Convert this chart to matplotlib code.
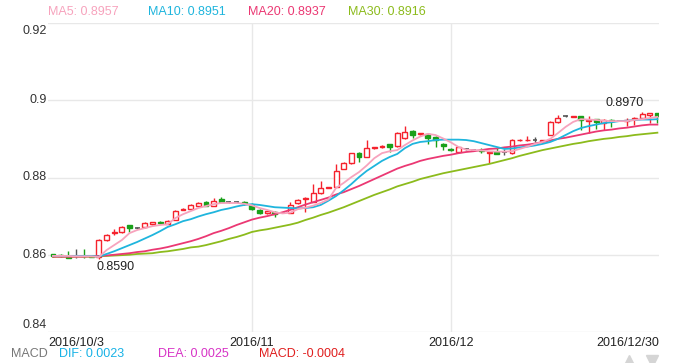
import matplotlib.pyplot as plt
from matplotlib.lines import Line2D
from matplotlib.transforms import blended_transform_factory

plt.rcParams['font.family'] = ['Liberation Sans', 'DejaVu Sans']

# daily candles, 2016/10/3 .. 2016/12/30
opens = [0.8601, 0.8599, 0.8593, 0.8596, 0.8598, 0.8596, 0.8594, 0.8638, 0.8656, 0.8659,
         0.8677, 0.8669, 0.8672, 0.8679, 0.8686, 0.8680, 0.8690, 0.8717, 0.8719, 0.8726,
         0.8737, 0.8727, 0.8744, 0.8736, 0.8736, 0.8737, 0.8728, 0.8717, 0.8707, 0.8711,
         0.8709, 0.8709, 0.8733, 0.8745, 0.8737, 0.8759, 0.8773, 0.8776, 0.8822, 0.8837,
         0.8863, 0.8854, 0.8876, 0.8878, 0.8886, 0.8881, 0.8901, 0.8921, 0.8912, 0.8913,
         0.8906, 0.8888, 0.8875, 0.8867, 0.8874, 0.8871, 0.8872, 0.8864, 0.8867, 0.8866,
         0.8863, 0.8896, 0.8896, 0.8897, 0.8894, 0.8910, 0.8943, 0.8959, 0.8957, 0.8959,
         0.8946, 0.8951, 0.8942, 0.8948, 0.8947, 0.8945, 0.8952, 0.8953, 0.8963, 0.8967]
highs = [0.8603, 0.8603, 0.8609, 0.8614, 0.8616, 0.8597, 0.8640, 0.8653, 0.8667, 0.8674,
         0.8678, 0.8671, 0.8684, 0.8685, 0.8688, 0.8689, 0.8715, 0.8720, 0.8731, 0.8736,
         0.8738, 0.8747, 0.8749, 0.8738, 0.8738, 0.8740, 0.8734, 0.8718, 0.8714, 0.8712,
         0.8711, 0.8737, 0.8744, 0.8749, 0.8784, 0.8792, 0.8776, 0.8836, 0.8839, 0.8864,
         0.8865, 0.8896, 0.8879, 0.8883, 0.8887, 0.8917, 0.8933, 0.8922, 0.8916, 0.8914,
         0.8907, 0.8889, 0.8876, 0.8879, 0.8876, 0.8873, 0.8876, 0.8868, 0.8877, 0.8875,
         0.8899, 0.8899, 0.8907, 0.8904, 0.8898, 0.8946, 0.8963, 0.8961, 0.8960, 0.8960,
         0.8959, 0.8952, 0.8951, 0.8951, 0.8949, 0.8953, 0.8957, 0.8970, 0.8967, 0.8968]
lows = [0.8595, 0.8594, 0.8591, 0.8591, 0.8592, 0.8594, 0.8590, 0.8636, 0.8651, 0.8657,
        0.8659, 0.8667, 0.8670, 0.8678, 0.8680, 0.8679, 0.8689, 0.8716, 0.8718, 0.8725,
        0.8725, 0.8726, 0.8736, 0.8734, 0.8734, 0.8729, 0.8717, 0.8706, 0.8706, 0.8697,
        0.8707, 0.8708, 0.8732, 0.8711, 0.8736, 0.8758, 0.8772, 0.8775, 0.8821, 0.8836,
        0.8839, 0.8853, 0.8875, 0.8877, 0.8865, 0.8880, 0.8900, 0.8902, 0.8911, 0.8887,
        0.8880, 0.8871, 0.8869, 0.8866, 0.8872, 0.8869, 0.8863, 0.8837, 0.8860, 0.8858,
        0.8862, 0.8895, 0.8895, 0.8893, 0.8893, 0.8909, 0.8942, 0.8957, 0.8956, 0.8922,
        0.8914, 0.8925, 0.8922, 0.8930, 0.8945, 0.8933, 0.8936, 0.8952, 0.8941, 0.8941]
closes = [0.8597, 0.8597, 0.8591, 0.8596, 0.8596, 0.8595, 0.8638, 0.8651, 0.8659, 0.8672,
          0.8669, 0.8669, 0.8682, 0.8684, 0.8682, 0.8687, 0.8714, 0.8719, 0.8729, 0.8735,
          0.8726, 0.8740, 0.8737, 0.8736, 0.8736, 0.8734, 0.8718, 0.8707, 0.8713, 0.8705,
          0.8709, 0.8729, 0.8743, 0.8748, 0.8759, 0.8772, 0.8775, 0.8817, 0.8837, 0.8863,
          0.8854, 0.8876, 0.8878, 0.8882, 0.8878, 0.8916, 0.8918, 0.8910, 0.8915, 0.8901,
          0.8897, 0.8881, 0.8871, 0.8878, 0.8874, 0.8871, 0.8869, 0.8867, 0.8861, 0.8866,
          0.8897, 0.8898, 0.8898, 0.8897, 0.8897, 0.8944, 0.8953, 0.8959, 0.8959, 0.8950,
          0.8950, 0.8943, 0.8950, 0.8945, 0.8947, 0.8948, 0.8955, 0.8964, 0.8966, 0.8960]

ma5 = [0.8597, 0.8597, 0.8597, 0.8596, 0.8596, 0.8596, 0.8594, 0.8612, 0.8625, 0.8638,
       0.8656, 0.8664, 0.8669, 0.8674, 0.8677, 0.8679, 0.8695, 0.8705, 0.8713, 0.8721,
       0.8726, 0.8731, 0.8734, 0.8734, 0.8734, 0.8732, 0.8728, 0.8721, 0.8716, 0.8710,
       0.8707, 0.8709, 0.8718, 0.8722, 0.8727, 0.8734, 0.8743, 0.8773, 0.8786, 0.8801,
       0.8814, 0.8831, 0.8850, 0.8863, 0.8868, 0.8871, 0.8884, 0.8896, 0.8906, 0.8913,
       0.8910, 0.8901, 0.8891, 0.8879, 0.8872, 0.8871, 0.8870, 0.8868, 0.8867, 0.8867,
       0.8868, 0.8874, 0.8880, 0.8887, 0.8892, 0.8900, 0.8915, 0.8931, 0.8944, 0.8951,
       0.8950, 0.8949, 0.8947, 0.8946, 0.8946, 0.8946, 0.8949, 0.8951, 0.8954, 0.8957]
ma10 = [0.8597, 0.8597, 0.8597, 0.8597, 0.8597, 0.8597, 0.8595, 0.8602, 0.8609, 0.8617,
        0.8625, 0.8633, 0.8642, 0.8651, 0.8661, 0.8672, 0.8679, 0.8687, 0.8692, 0.8699,
        0.8705, 0.8710, 0.8716, 0.8720, 0.8725, 0.8729, 0.8731, 0.8729, 0.8726, 0.8723,
        0.8722, 0.8721, 0.8720, 0.8721, 0.8723, 0.8729, 0.8740, 0.8752, 0.8767, 0.8783,
        0.8801, 0.8817, 0.8830, 0.8843, 0.8853, 0.8861, 0.8876, 0.8887, 0.8892, 0.8894,
        0.8897, 0.8898, 0.8898, 0.8898, 0.8897, 0.8894, 0.8889, 0.8884, 0.8879, 0.8874,
        0.8875, 0.8878, 0.8880, 0.8883, 0.8887, 0.8892, 0.8900, 0.8910, 0.8920, 0.8928,
        0.8933, 0.8937, 0.8941, 0.8943, 0.8946, 0.8947, 0.8949, 0.8950, 0.8950, 0.8951]
ma20 = [0.8595, 0.8595, 0.8595, 0.8595, 0.8595, 0.8596, 0.8597, 0.8598, 0.8600, 0.8602,
        0.8604, 0.8607, 0.8609, 0.8613, 0.8616, 0.8620, 0.8625, 0.8630, 0.8635, 0.8641,
        0.8648, 0.8656, 0.8662, 0.8669, 0.8677, 0.8684, 0.8691, 0.8696, 0.8700, 0.8705,
        0.8710, 0.8716, 0.8723, 0.8730, 0.8736, 0.8742, 0.8748, 0.8756, 0.8762, 0.8770,
        0.8778, 0.8787, 0.8796, 0.8805, 0.8814, 0.8823, 0.8830, 0.8836, 0.8843, 0.8848,
        0.8852, 0.8856, 0.8859, 0.8863, 0.8866, 0.8868, 0.8871, 0.8874, 0.8875, 0.8878,
        0.8880, 0.8883, 0.8885, 0.8888, 0.8892, 0.8896, 0.8900, 0.8903, 0.8907, 0.8911,
        0.8915, 0.8919, 0.8922, 0.8924, 0.8927, 0.8929, 0.8932, 0.8935, 0.8937, 0.8937]
ma30 = [0.8595, 0.8595, 0.8595, 0.8595, 0.8595, 0.8595, 0.8596, 0.8597, 0.8598, 0.8599,
        0.8600, 0.8602, 0.8603, 0.8604, 0.8607, 0.8609, 0.8612, 0.8615, 0.8619, 0.8621,
        0.8625, 0.8630, 0.8635, 0.8641, 0.8646, 0.8652, 0.8659, 0.8663, 0.8666, 0.8670,
        0.8674, 0.8678, 0.8683, 0.8690, 0.8696, 0.8703, 0.8709, 0.8716, 0.8723, 0.8731,
        0.8739, 0.8747, 0.8755, 0.8762, 0.8769, 0.8777, 0.8783, 0.8789, 0.8796, 0.8801,
        0.8806, 0.8811, 0.8815, 0.8819, 0.8823, 0.8827, 0.8831, 0.8835, 0.8840, 0.8845,
        0.8850, 0.8856, 0.8861, 0.8866, 0.8871, 0.8875, 0.8879, 0.8883, 0.8887, 0.8890,
        0.8894, 0.8897, 0.8900, 0.8902, 0.8905, 0.8907, 0.8910, 0.8912, 0.8914, 0.8916]

date_labels = ['2016/10/3', '2016/11', '2016/12', '2016/12/30']
date_index = [0, 26, 52, 79]
y_ticks = [0.84, 0.86, 0.88, 0.9, 0.92]
y_labels = ['0.84', '0.86', '0.88', '0.9', '0.92']

ma_names = ['MA5', 'MA10', 'MA20', 'MA30']
ma_colors = ['#f7a3bd', '#1fb5dd', '#eb3873', '#8cbb1c']
macd_names = ['DIF', 'DEA', 'MACD']
macd_values = [0.0023, 0.0025, -0.0004]
macd_colors = ['#17b2e6', '#d733c6', '#e01e1e']

RED = '#f5222d'
GREEN = '#1aa01a'
GRAY = '#555555'
FS = 9

fig = plt.figure(figsize=(6.98, 3.63), dpi=100)
ax = fig.add_axes([48 / 698, 31 / 363, 611 / 698, 309 / 363])
n = len(closes)
ax.set_xlim(-0.65, n - 1 + 0.21)
ax.set_ylim(y_ticks[0], y_ticks[-1])

for s in ax.spines.values():
    s.set_visible(False)
for v in y_ticks:
    ax.axhline(v, color='#e8e8e8', lw=1, zorder=0)
for i in date_index[1:3]:
    ax.axvline(i, color='#e8e8e8', lw=1, zorder=0)

w = 0.64
for i in range(n):
    o, h, l, c = opens[i], highs[i], lows[i], closes[i]
    if c > o:
        col = RED
    elif c < o:
        col = GREEN
    else:
        col = GRAY
    ax.vlines(i, l, h, color=col, lw=1, zorder=2)
    if c == o:
        ax.hlines(c, i - w / 2, i + w / 2, color=col, lw=1.2, zorder=3)
    elif c > o:
        ax.bar(i, c - o, bottom=o, width=w, facecolor='white', edgecolor=col, lw=1, zorder=3)
    else:
        ax.bar(i, o - c, bottom=c, width=w, facecolor=col, edgecolor=col, lw=1, zorder=3)

for vals, col in zip([ma30, ma20, ma10, ma5], ma_colors[::-1]):
    ax.plot(range(n), vals, color=col, lw=1.3, zorder=4)

ax.set_xticks([])
ax.set_yticks([])

# y labels: top one hangs below its line, bottom one sits above it
ty = blended_transform_factory(ax.transAxes, ax.transData)
for k, (v, lab) in enumerate(zip(y_ticks, y_labels)):
    if k == 0:
        ax.text(-0.002, v + 0.0003, lab, transform=ty, ha='right', va='bottom', fontsize=FS, color='#333333')
    elif k == len(y_ticks) - 1:
        ax.text(-0.002, v - 0.0006, lab, transform=ty, ha='right', va='top', fontsize=FS, color='#333333')
    else:
        ax.text(-0.002, v, lab, transform=ty, ha='right', va='center', fontsize=FS, color='#333333')

tr = blended_transform_factory(ax.transData, ax.transAxes)
xl = ax.get_xlim()
for k, (lab, i) in enumerate(zip(date_labels, date_index)):
    if k == 0:
        ax.text(xl[0], -0.015, lab, transform=tr, ha='left', va='top', fontsize=FS, color='#222222')
    elif k == len(date_labels) - 1:
        ax.text(xl[1], -0.015, lab, transform=tr, ha='right', va='top', fontsize=FS, color='#222222')
    else:
        ax.text(i, -0.015, lab, transform=tr, ha='center', va='top', fontsize=FS, color='#222222')

# max / min annotations
imax = highs.index(max(highs))
imin = lows.index(min(lows))
ax.annotate('%.4f' % highs[imax], (imax, highs[imax]), xytext=(1, 2), textcoords='offset points',
            ha='right', va='bottom', fontsize=FS, color='#222222')
ax.annotate('%.4f' % lows[imin], (imin, lows[imin]), xytext=(-2, -2), textcoords='offset points',
            ha='left', va='top', fontsize=FS, color='#222222')

# MA header
ma_last = [ma5[-1], ma10[-1], ma20[-1], ma30[-1]]
for k, (name, val, col) in enumerate(zip(ma_names, ma_last, ma_colors)):
    fig.text((48 + 100 * k) / 698, 1 - 12 / 363, '%s: %.4f' % (name, val), color=col,
             fontsize=FS, ha='left', va='center')

# MACD footer
fig.text(11 / 698, 1 - 354 / 363, 'MACD', color='#777777', fontsize=FS, ha='left', va='center')
for x0, name, val, col in zip([59, 158, 259], macd_names, macd_values, macd_colors):
    fig.text(x0 / 698, 1 - 354 / 363, '%s: %.4f' % (name, val), color=col, fontsize=FS,
             ha='left', va='center')

# small scroll arrows, cut by the bottom edge
fig.add_artist(Line2D([629 / 698], [2 / 363], marker='^', ms=8, color='#d5d5d5', lw=0,
                      transform=fig.transFigure))
fig.add_artist(Line2D([652 / 698], [2 / 363], marker='v', ms=8, color='#d5d5d5', lw=0,
                      transform=fig.transFigure))

fig.savefig('out.png', dpi=100)
